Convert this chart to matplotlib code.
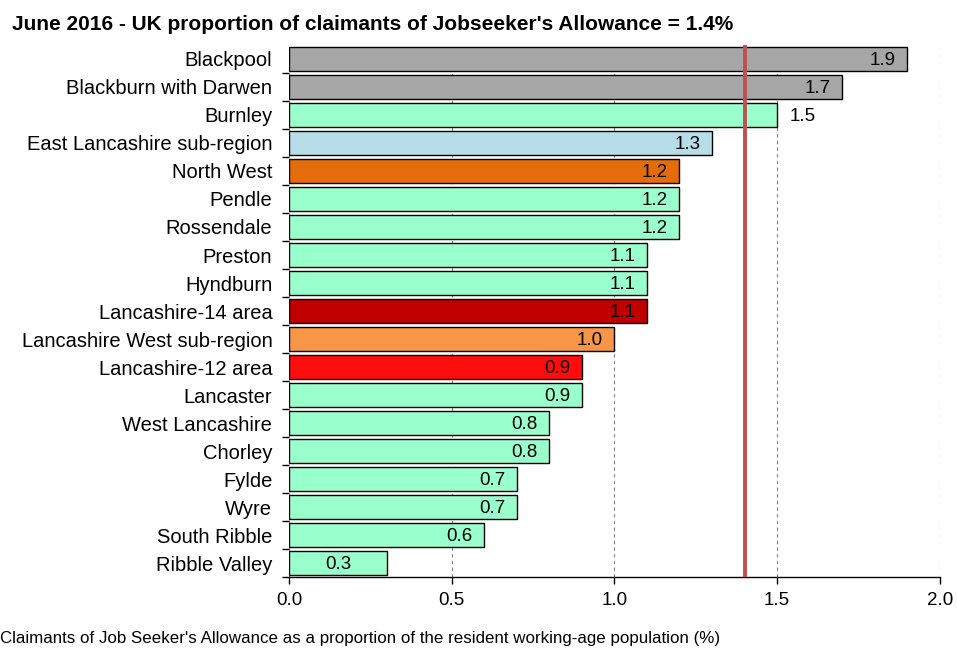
import matplotlib
matplotlib.use("Agg")
import matplotlib.pyplot as plt

areas = ["Blackpool", "Blackburn with Darwen", "Burnley", "East Lancashire sub-region",
         "North West", "Pendle", "Rossendale", "Preston", "Hyndburn", "Lancashire-14 area",
         "Lancashire West sub-region", "Lancashire-12 area", "Lancaster", "West Lancashire",
         "Chorley", "Fylde", "Wyre", "South Ribble", "Ribble Valley"]
values = [1.9, 1.7, 1.5, 1.3, 1.2, 1.2, 1.2, 1.1, 1.1, 1.1, 1.0, 0.9, 0.9, 0.8, 0.8, 0.7, 0.7, 0.6, 0.3]
colors = ["#a6a6a6", "#a6a6a6", "#99ffcc", "#b7dde8", "#e46c0a", "#99ffcc", "#99ffcc",
          "#99ffcc", "#99ffcc", "#c00000", "#f79646", "#ff0d0d", "#99ffcc", "#99ffcc",
          "#99ffcc", "#99ffcc", "#99ffcc", "#99ffcc", "#99ffcc"]
uk_rate = 1.4

plt.rcParams['font.family'] = ['Liberation Sans', 'DejaVu Sans']

fig = plt.figure(figsize=(9.57, 6.52), dpi=100)
ax = fig.add_axes([0.302, 0.115, 0.68, 0.816])

y = list(range(len(areas)))
ax.barh(y, values, height=0.86, color=colors, edgecolor="black", linewidth=1.0, zorder=2)
ax.set_ylim(len(areas) - 0.5, -0.5)
ax.set_xlim(0, 2.0)

# value labels
for i, v in enumerate(values):
    if areas[i] == "Burnley":
        ax.text(v + 0.04, i + 0.05, f"{v:.1f}", va="center", ha="left", fontsize=13.5, zorder=4)
    elif v < 0.5:
        ax.text(v / 2, i + 0.05, f"{v:.1f}", va="center", ha="center", fontsize=13.5, zorder=4)
    else:
        ax.text(v - 0.035, i + 0.05, f"{v:.1f}", va="center", ha="right", fontsize=13.5, zorder=4)

ax.axvline(uk_rate, color="#c0504d", linewidth=2.8, zorder=3)

ax.set_xticks([0.0, 0.5, 1.0, 1.5, 2.0])
ax.set_xticklabels(["0.0", "0.5", "1.0", "1.5", "2.0"], fontsize=13.5)
ax.grid(axis="x", linestyle=(0, (3, 3)), color="#808080", linewidth=0.8, zorder=0)

ax.set_yticks([i + 0.5 for i in y], minor=True)
ax.set_yticks(y)
ax.set_yticklabels(areas, fontsize=14.5)
ax.tick_params(axis="y", which="major", length=0, pad=12)
ax.tick_params(axis="y", which="minor", length=5, width=1, direction="out")
ax.tick_params(axis="x", length=5, width=1, direction="out", pad=6)

for s in ["top", "right", "left"]:
    ax.spines[s].set_visible(False)
ax.spines["bottom"].set_linewidth(1.0)

fig.text(0.013, 0.962, "June 2016 - UK proportion of claimants of Jobseeker's Allowance = 1.4%",
         fontsize=15, fontweight="bold", ha="left", va="center")
fig.text(0.0, 0.02, "Claimants of Job Seeker's Allowance as a proportion of the resident working-age population (%)",
         fontsize=12.2, ha="left", va="center")

fig.savefig("out.png", dpi=100)
